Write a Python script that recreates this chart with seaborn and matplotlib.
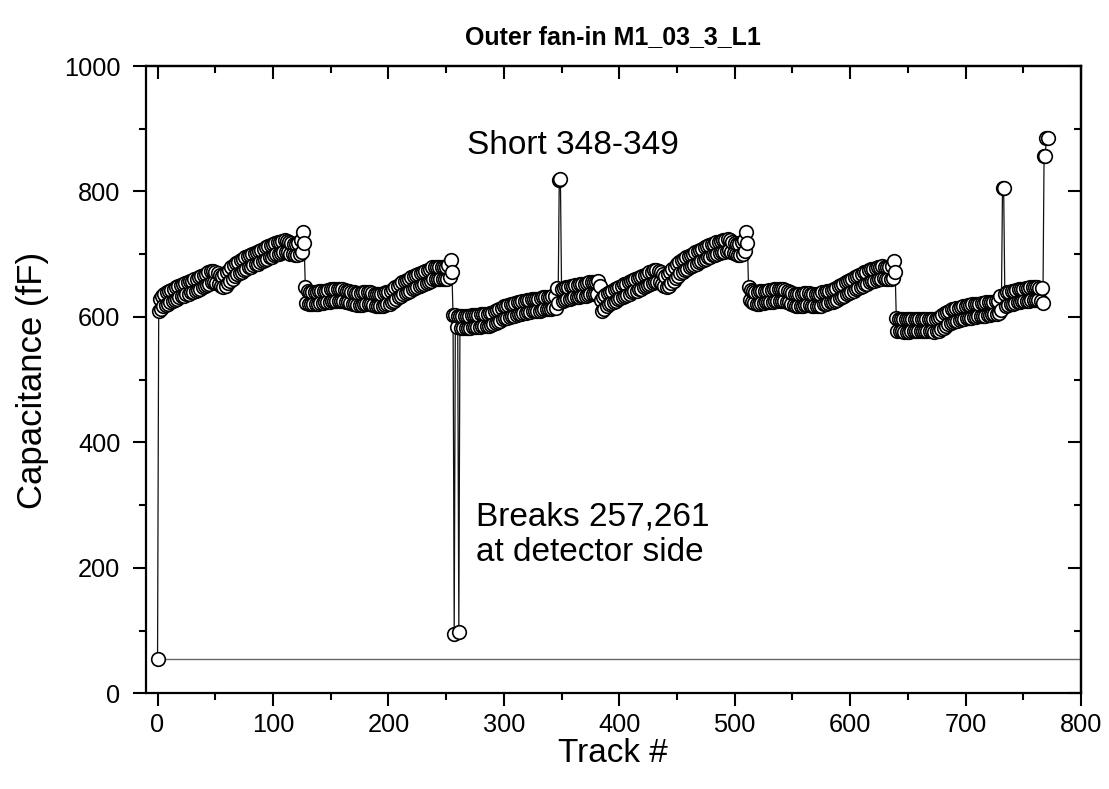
import numpy as np
import pandas as pd
import matplotlib
matplotlib.use("Agg")
import matplotlib.pyplot as plt
from matplotlib.ticker import MultipleLocator
import seaborn as sns

# ---------------- data ----------------
# Each 128-track block alternates between an "even track" band and an "odd track" band.
seg_starts = [0, 128, 256, 384, 512, 640]

seg1_even = [55, 629, 634, 637, 639, 641, 643, 645, 647, 649, 651, 652, 654, 655, 657, 658,
             660, 661, 663, 665, 667, 669, 671, 673, 673, 672, 670, 667, 666, 668, 672, 675,
             679, 683, 686, 688, 690, 693, 695, 697, 698, 700, 702, 703, 705, 707, 709, 711,
             713, 714, 716, 718, 719, 720, 721, 722, 721, 719, 718, 716, 716, 718, 722, 736]
seg1_odd = [609, 613, 617, 619, 621, 623, 625, 627, 629, 631, 633, 634, 636, 637, 639, 640,
            642, 643, 645, 647, 649, 651, 653, 655, 655, 654, 652, 649, 648, 650, 654, 657,
            661, 665, 668, 670, 672, 675, 677, 679, 680, 682, 684, 685, 687, 689, 691, 693,
            695, 696, 698, 700, 701, 702, 703, 704, 703, 701, 700, 698, 698, 700, 704, 718]

seg2_even = [648, 642, 639, 639, 640, 640, 641, 641, 642, 642, 643, 644, 644, 645, 645, 645,
             644, 643, 642, 641, 640, 639, 638, 638, 638, 639, 640, 640, 639, 638, 637, 636,
             636, 637, 638, 639, 640, 642, 645, 648, 650, 652, 655, 657, 659, 661, 663, 665,
             667, 668, 670, 672, 673, 675, 677, 679, 680, 680, 680, 679, 679, 680, 682, 690]
seg2_odd = [622, 621, 620, 620, 621, 621, 622, 622, 623, 623, 624, 625, 625, 626, 626, 626,
            625, 624, 623, 622, 621, 620, 619, 619, 619, 620, 621, 621, 620, 619, 618, 617,
            617, 618, 619, 620, 621, 623, 626, 629, 631, 633, 636, 638, 640, 642, 644, 646,
            648, 649, 651, 653, 654, 656, 658, 660, 661, 661, 661, 660, 660, 661, 663, 672]

seg3_even = [603, 603, 602, 602, 602, 602, 602, 602, 603, 603, 603, 603, 604, 604, 605, 605,
             606, 607, 609, 611, 613, 615, 617, 618, 619, 620, 621, 622, 623, 624, 625, 626,
             627, 627, 628, 628, 629, 629, 630, 631, 631, 632, 632, 633, 634, 646, 818, 645,
             646, 647, 648, 649, 650, 651, 651, 652, 653, 653, 654, 655, 656, 656, 655, 657]
seg3_odd = [95, 584, 98, 583, 583, 583, 583, 583, 584, 584, 584, 584, 585, 585, 586, 586,
            587, 588, 590, 592, 594, 596, 598, 599, 600, 601, 602, 603, 604, 605, 606, 607,
            608, 608, 609, 609, 610, 610, 611, 612, 612, 613, 613, 614, 615, 622, 820, 626,
            627, 628, 629, 630, 631, 632, 632, 633, 634, 634, 635, 636, 637, 637, 636, 650]

seg4_even = [627, 631, 635, 638, 640, 642, 644, 646, 648, 650, 652, 653, 655, 657, 659, 660,
             662, 663, 665, 667, 669, 671, 672, 674, 674, 673, 671, 668, 666, 668, 672, 676,
             680, 684, 688, 690, 693, 695, 697, 699, 701, 703, 705, 707, 709, 711, 713, 714,
             716, 717, 719, 720, 721, 722, 723, 724, 722, 720, 718, 717, 717, 719, 723, 736]
seg4_odd = [609, 613, 617, 620, 622, 624, 626, 628, 630, 632, 634, 635, 637, 639, 641, 642,
            644, 645, 647, 649, 651, 653, 654, 656, 656, 655, 653, 650, 648, 650, 654, 658,
            662, 666, 670, 672, 675, 677, 679, 681, 683, 685, 687, 689, 691, 693, 695, 696,
            698, 699, 701, 702, 703, 704, 705, 706, 704, 702, 700, 699, 699, 701, 705, 718]

seg5_even = [647, 643, 641, 640, 640, 641, 641, 642, 642, 643, 643, 644, 645, 645, 645, 644,
             643, 642, 640, 638, 637, 636, 636, 637, 638, 638, 638, 637, 636, 636, 636, 637,
             639, 640, 641, 642, 643, 644, 646, 649, 651, 653, 655, 657, 659, 661, 663, 665,
             667, 669, 671, 672, 674, 676, 677, 678, 679, 680, 681, 680, 679, 679, 681, 689]
seg5_odd = [627, 624, 622, 621, 621, 622, 622, 623, 623, 624, 624, 625, 626, 626, 626, 625,
            624, 623, 621, 619, 618, 617, 617, 618, 619, 619, 619, 618, 617, 617, 617, 618,
            620, 621, 622, 623, 624, 625, 627, 630, 632, 634, 636, 638, 640, 642, 644, 646,
            648, 650, 652, 653, 655, 657, 658, 659, 660, 661, 662, 661, 660, 660, 662, 671]

seg6_even = [598, 597, 597, 596, 596, 596, 597, 597, 597, 597, 597, 597, 597, 597, 597, 597,
             596, 597, 598, 600, 603, 606, 608, 610, 612, 613, 614, 615, 616, 617, 618, 619,
             619, 620, 620, 621, 621, 622, 622, 623, 623, 624, 624, 625, 626, 634, 805, 637,
             639, 640, 641, 642, 643, 644, 645, 645, 646, 646, 647, 647, 647, 647, 646, 646]
seg6_odd = [578, 577, 577, 576, 576, 576, 577, 577, 577, 577, 577, 577, 577, 577, 577, 577,
            576, 577, 578, 580, 583, 586, 588, 590, 592, 593, 594, 595, 596, 597, 598, 599,
            599, 600, 600, 601, 601, 602, 602, 603, 603, 604, 604, 605, 606, 611, 805, 617,
            619, 620, 621, 622, 623, 624, 625, 625, 626, 626, 627, 627, 627, 627, 626, 622]

tail_tracks = [768, 769, 770, 771]
tail_values = [857, 857, 885, 885]

baseline_x = [0, 800]
baseline_y = [55, 55]

x_ticks = [0, 100, 200, 300, 400, 500, 600, 700, 800]
y_ticks = [0, 200, 400, 600, 800, 1000]

# ---------------- arrange into one series ----------------
evens = [seg1_even, seg2_even, seg3_even, seg4_even, seg5_even, seg6_even]
odds = [seg1_odd, seg2_odd, seg3_odd, seg4_odd, seg5_odd, seg6_odd]
tracks, caps = [], []
for s, ev, od in zip(seg_starts, evens, odds):
    for k in range(len(ev)):
        tracks.append(s + 2 * k)
        caps.append(ev[k])
        tracks.append(s + 2 * k + 1)
        caps.append(od[k])
tracks += tail_tracks
caps += tail_values
df = pd.DataFrame({"Track": tracks, "Cap": caps})
base = pd.DataFrame({"Track": baseline_x, "Cap": baseline_y})

# ---------------- style ----------------
sns.set_style("ticks")
plt.rcParams["font.family"] = ["Liberation Sans", "DejaVu Sans"]
for key in ["text.color", "axes.labelcolor", "xtick.color", "ytick.color", "axes.edgecolor"]:
    plt.rcParams[key] = "black"

fig = plt.figure(figsize=(11.09, 7.89), dpi=100)
ax = fig.add_axes([146 / 1109, 1 - 693.3 / 789, (1081 - 146) / 1109, (693.3 - 66) / 789])

sns.lineplot(data=base, x="Track", y="Cap", ax=ax, color="#666666", linewidth=1.0,
             sort=False, estimator=None)
sns.lineplot(data=df, x="Track", y="Cap", ax=ax, color="#111111", linewidth=0.9,
             marker="o", markersize=9.8, markerfacecolor="white",
             markeredgecolor="black", markeredgewidth=1.2, sort=False, estimator=None)

ax.set_xlim(-10, 800)
ax.set_ylim(0, 1000)
ax.set_xticks(x_ticks)
ax.set_yticks(y_ticks)
ax.xaxis.set_minor_locator(MultipleLocator(50))
ax.yaxis.set_minor_locator(MultipleLocator(100))
ax.tick_params(which="major", direction="out", length=9.5, width=1.5, labelsize=18.3,
               colors="black")
ax.tick_params(which="minor", direction="out", length=5, width=1.5, colors="black")
ax.tick_params(axis="x", which="major", pad=5)
ax.tick_params(axis="y", which="major", pad=9)
for sp in ax.spines.values():
    sp.set_linewidth(1.6)
    sp.set_color("black")

# inward ticks on top and right
top = ax.secondary_xaxis("top")
top.set_xticks(x_ticks)
top.xaxis.set_minor_locator(MultipleLocator(50))
top.tick_params(which="major", direction="in", length=9.5, width=1.5, labeltop=False,
                colors="black")
top.tick_params(which="minor", direction="in", length=5, width=1.5, colors="black")
top.set_xticklabels([])
top.spines["top"].set_linewidth(1.6)
right = ax.secondary_yaxis("right")
right.set_yticks(y_ticks)
right.yaxis.set_minor_locator(MultipleLocator(100))
right.tick_params(which="major", direction="in", length=9.5, width=1.5, labelright=False,
                  colors="black")
right.tick_params(which="minor", direction="in", length=5, width=1.5, colors="black")
right.set_yticklabels([])
right.spines["right"].set_linewidth(1.6)

ax.set_xlabel("")
ax.set_ylabel("")
fig.text(613 / 1109, 1 - 753 / 789, "Track #", ha="center", va="center", fontsize=24,
         color="black")
fig.text(33 / 1109, 1 - 380 / 789, "Capacitance (fF)", ha="center", va="center",
         rotation=90, fontsize=25, color="black")
fig.text(613 / 1109, 1 - 37 / 789, "Outer fan-in M1_03_3_L1", ha="center", va="center",
         fontsize=18, fontweight="bold", color="black")

ax.text(268, 873, "Short 348-349", ha="left", va="center", fontsize=24, color="black")
ax.text(276, 281, "Breaks 257,261", ha="left", va="center", fontsize=24, color="black")
ax.text(276, 224, "at detector side", ha="left", va="center", fontsize=24, color="black")

fig.savefig("out.png", dpi=100)
